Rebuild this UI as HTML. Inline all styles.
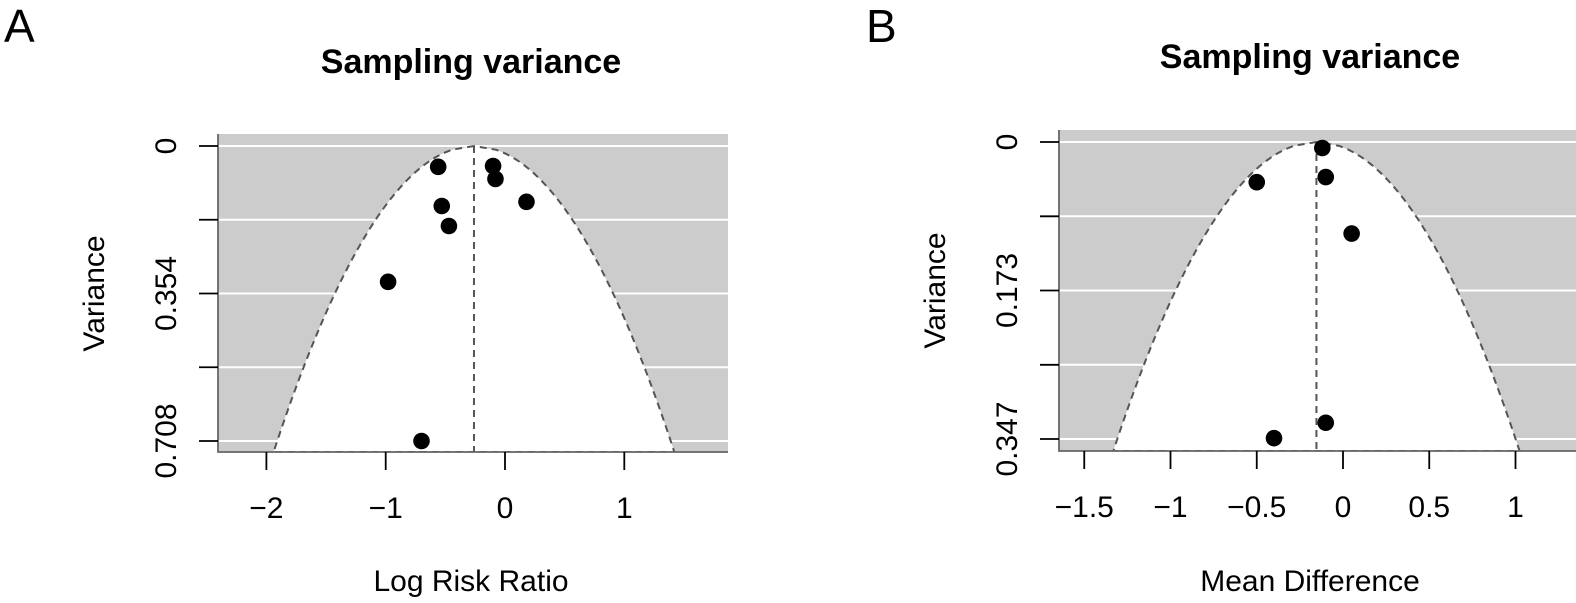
<!DOCTYPE html>
<html><head><meta charset="utf-8"><style>
html,body{margin:0;padding:0;background:#fff;}
svg{display:block;font-family:"Liberation Sans",Arial,sans-serif;}
</style></head><body>
<svg id="s" width="1576" height="603"></svg>
<script>
// Panel A data
const aTitle = "Sampling variance";
const aXTicks = [-2,-1,0,1];
const aYTicks = [0,0.177,0.354,0.531,0.708];
const aYLabels = ["0","","0.354","","0.708"];
const aEffects = [-0.56,-0.10,-0.08,-0.53,-0.47,0.18,-0.98,-0.70];
const aVariances = [0.050,0.048,0.079,0.144,0.192,0.134,0.326,0.708];
const aCenter = -0.26;
// Panel B data
const bXTicks = [-1.5,-1,-0.5,0,0.5,1];
const bXLabels = ["\u22121.5","\u22121","\u22120.5","0","0.5","1"];
const bYTicks = [0,0.0868,0.1735,0.2603,0.347];
const bYLabels = ["0","","0.173","","0.347"];
const bEffects = [-0.12,-0.50,-0.10,0.05,-0.10,-0.40];
const bVariances = [0.007,0.047,0.041,0.107,0.328,0.346];
const bCenter = -0.154;

const NS="http://www.w3.org/2000/svg";
const svg=document.getElementById('s');
function mk(tag,attrs,parent){const e=document.createElementNS(NS,tag);for(const k in attrs)e.setAttribute(k,attrs[k]);(parent||svg).appendChild(e);return e;}

function panel(cfg){
  const g=mk('g',{});
  
  
  const {L,R,T,B,x0px,xScale,v0px,vScale}=cfg;
  const xs=v=>x0px+v*xScale, ys=v=>v0px+v*vScale;
  const clipId=cfg.name+'-clip';
  const cp=mk('clipPath',{id:clipId},g); mk('rect',{x:L,y:T,width:R-L,height:B-T},cp);
  const bg=mk('rect',{x:L,y:T,width:R-L,height:B-T,fill:'#cccccc'},g);
  
  
  cfg.yTicks.forEach(t=>{const l=mk('line',{x1:L,x2:R,y1:ys(t),y2:ys(t),stroke:'#fff','stroke-width':2},g);
    
    });
  const vMax=(B-v0px)/vScale;
  let pts=[];const N=80;
  for(let i=0;i<=N;i++){const v=vMax*i/N;pts.push([xs(cfg.center-1.96*Math.sqrt(v)),ys(v)]);}
  let right=[];for(let i=N;i>=0;i--){const v=vMax*i/N;right.push([xs(cfg.center+1.96*Math.sqrt(v)),ys(v)]);}
  const poly=pts.concat(right).map(p=>p.join(',')).join(' ');
  const fp=mk('polygon',{points:poly,fill:'#fff','clip-path':'url(#'+clipId+')'},g);
  
  
  const fl=mk('polyline',{points:poly,fill:'none',stroke:'#555','stroke-width':2,'stroke-dasharray':'7,5','clip-path':'url(#'+clipId+')'},g);
  
  
  const cl=mk('line',{x1:xs(cfg.center),x2:xs(cfg.center),y1:ys(0),y2:B,stroke:'#555','stroke-width':2,'stroke-dasharray':'7,5'},g);
  
  
  cfg.eff.forEach((e,i)=>{const c=mk('circle',{cx:xs(e),cy:ys(cfg.vars[i]),r:8.3,fill:'#000'},g);
    
    });
  const ax=mk('path',{d:`M${L},${T} V${B} H${R}`,fill:'none',stroke:'#666','stroke-width':1.8},g);
  
  
  cfg.xTicks.forEach((t,i)=>{const x=xs(t);
    const tl=mk('line',{x1:x,x2:x,y1:B,y2:B+18,stroke:'#000','stroke-width':1.8},g);
    
    
    const tx=mk('text',{x:x,y:B+66,'text-anchor':'middle','font-size':30},g);
    tx.textContent=cfg.xLabels[i];
    
    });
  cfg.yTicks.forEach((t,i)=>{const y=ys(t);
    const tl=mk('line',{x1:L-19,x2:L,y1:y,y2:y,stroke:'#000','stroke-width':1.8},g);
    
    
    if(cfg.yLabels[i]){const tx=mk('text',{x:0,y:0,'text-anchor':'middle','font-size':30,transform:`translate(${L-42},${y}) rotate(-90)`},g);
      tx.textContent=cfg.yLabels[i];
      
      }});
  const tt=mk('text',{x:cfg.titleX,y:cfg.titleY,'text-anchor':'middle','font-size':34,'font-weight':'bold'},g);
  tt.textContent=aTitle;
  
  
  const xt=mk('text',{x:cfg.titleX,y:591,'text-anchor':'middle','font-size':30},g);
  xt.textContent=cfg.xTitle;
  
  
  const yt=mk('text',{x:0,y:0,'text-anchor':'middle','font-size':30,transform:`translate(${L-114},${(ys(cfg.yTicks[2]))}) rotate(-90)`},g);
  yt.textContent='Variance';
  
  
  const pl=mk('text',{x:cfg.letterX,y:42,'font-size':46},g);
  pl.textContent=cfg.letter;
  
  
}

panel({name:'panel-a',L:218,R:728,T:134,B:452,x0px:505,xScale:119.3,v0px:146,vScale:295/0.708,
  xTicks:aXTicks,xLabels:aXTicks.map(t=>t<0?'\u2212'+(-t):String(t)),yTicks:aYTicks,yLabels:aYLabels,
  eff:aEffects,vars:aVariances,center:aCenter,titleX:471,titleY:73,xTitle:'Log Risk Ratio',letter:'A',letterX:4});
panel({name:'panel-b',L:1059,R:1576,T:130,B:451,x0px:1343,xScale:172.5,v0px:142,vScale:297/0.347,
  xTicks:bXTicks,xLabels:bXLabels,yTicks:bYTicks,yLabels:bYLabels,
  eff:bEffects,vars:bVariances,center:bCenter,titleX:1310,titleY:68,xTitle:'Mean Difference',letter:'B',letterX:866});
</script>
</body></html>
